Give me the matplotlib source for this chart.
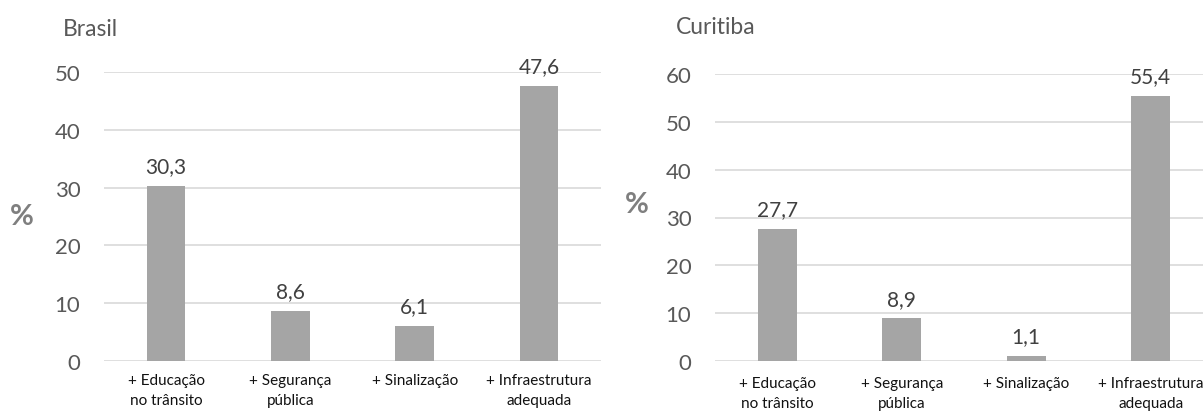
import matplotlib
matplotlib.use("Agg")
from matplotlib import pyplot as plt

plt.rcParams['font.family'] = ['Lato', 'DejaVu Sans']

categorias = ['+ Educação\nno trânsito', '+ Segurança\npública',
              '+ Sinalização', '+ Infraestrutura\nadequada']
brasil = [30.3, 8.6, 6.1, 47.6]
curitiba = [27.7, 8.9, 1.1, 55.4]
ticks_brasil = [0, 10, 20, 30, 40, 50]
ticks_curitiba = [0, 10, 20, 30, 40, 50, 60]

W, H = 1203, 414
fig = plt.figure(figsize=(W / 100, H / 100), dpi=100)

bar_color = '#A5A5A5'
grid_color = '#D9D9D9'
text_gray = '#595959'


def painel(rect, valores, yticks, titulo, tpos, ppos, xpad):
    ax = fig.add_axes(rect)
    x = list(range(len(categorias)))
    bars = ax.bar(x, valores, width=0.31, color=bar_color, zorder=3)
    ax.set_xlim(-0.5, len(categorias) - 0.5)
    ax.set_ylim(0, yticks[-1])
    ax.set_yticks(yticks)
    ax.set_yticklabels([str(t) for t in yticks], fontsize=16, color=text_gray)
    ax.set_xticks(x)
    ax.set_xticklabels(categorias, fontsize=11, color='#111111',
                       linespacing=1.5)
    ax.tick_params(axis='y', length=0, pad=17)
    ax.tick_params(axis='x', length=0, pad=xpad)
    ax.grid(axis='y', color=grid_color, linewidth=1.2, zorder=0)
    ax.set_axisbelow(True)
    for s in ax.spines.values():
        s.set_visible(False)
    for b, v in zip(bars, valores):
        ax.annotate(f'{v:.1f}'.replace('.', ','),
                    (b.get_x() + b.get_width() / 2, v),
                    xytext=(0, 7), textcoords='offset points',
                    ha='center', va='bottom', fontsize=15, color='#404040')
    fig.text(tpos[0] / W, 1 - tpos[1] / H, titulo, fontsize=16.5,
             color=text_gray, va='center', ha='left')
    fig.text(ppos[0] / W, 1 - ppos[1] / H, '%', fontsize=21,
             fontweight='bold', color='#7F7F7F', va='center', ha='center')
    return ax


painel([104 / W, 52 / H, 497 / W, 289 / H], brasil, ticks_brasil,
       'Brasil', (63, 29), (22, 217), 9)
painel([715 / W, 52 / H, 498 / W, 287 / H], curitiba, ticks_curitiba,
       'Curitiba', (676, 27), (637, 205), 11)

fig.savefig('out.png', dpi=100)
